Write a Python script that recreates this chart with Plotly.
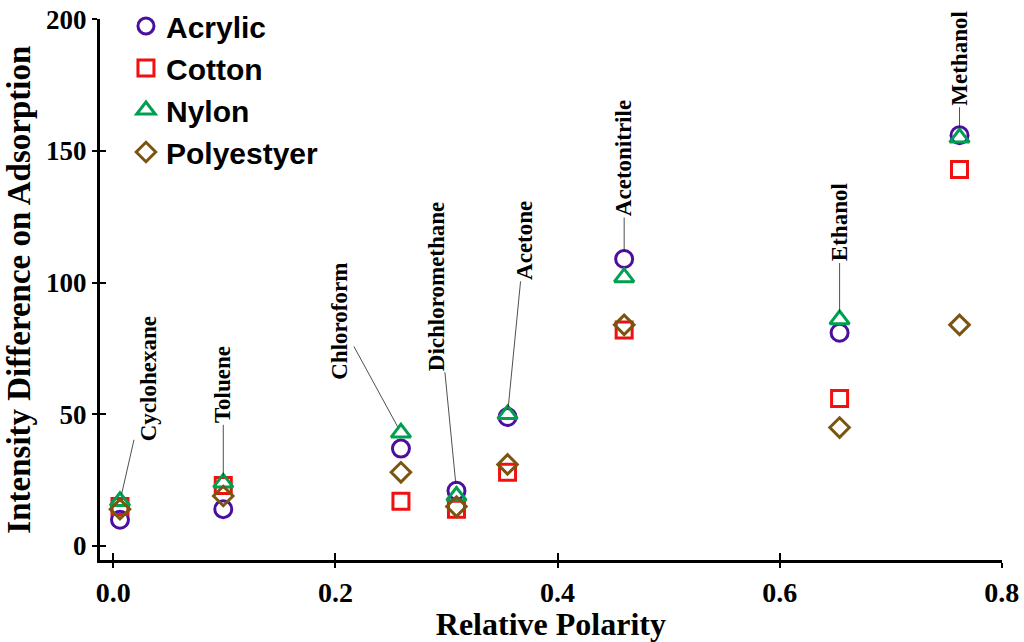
import plotly.graph_objects as go

solvents = ["Cyclohexane", "Toluene", "Chloroform", "Dichloromethane",
            "Acetone", "Acetonitrile", "Ethanol", "Methanol"]
polarity = [0.006, 0.099, 0.259, 0.309, 0.355, 0.460, 0.654, 0.762]
acrylic = [10, 14, 37, 21, 49, 109, 81, 156]
cotton = [15, 23, 17, 14, 28, 82, 56, 143]
nylon = [17, 24, 43, 19, 50, 102, 86, 155]
polyester = [14, 19, 28, 15, 31, 84, 45, 84]

x_ticks = [0.0, 0.2, 0.4, 0.6, 0.8]
y_ticks = [0, 50, 100, 150, 200]

# label offsets (pixels) for the solvent annotations
label_offsets = [(28, -123), (0, -98), (-61, -112), (-20, -205),
                 (17, -174), (0, -101), (0, -97), (0, -77)]

series = [
    ("Acrylic", acrylic, "circle-open", "#4B0FA0", 17),
    ("Cotton", cotton, "square-open", "#F01010", 16),
    ("Nylon", nylon, "triangle-up-open", "#00A050", 17),
    ("Polyestyer", polyester, "diamond-open", "#7A5510", 15),
]

serif = "Liberation Serif"
sans = "Liberation Sans"

fig = go.Figure()
for name, vals, sym, col, size in series:
    fig.add_trace(go.Scatter(
        x=polarity, y=vals, mode="markers", name=name,
        marker=dict(symbol=sym, size=size, color=col,
                    line=dict(color=col, width=3)),
    ))

# dummy trace for the overlay axes (inside ticks)
fig.add_trace(go.Scatter(x=[None], y=[None], xaxis="x2", yaxis="y2",
                         showlegend=False, hoverinfo="skip"))

tops = [max(a, b, c, d) for a, b, c, d in zip(acrylic, cotton, nylon, polyester)]
for name, px, py, (ax, ay) in zip(solvents, polarity, tops, label_offsets):
    fig.add_annotation(
        x=px, y=py, text=name, textangle=-90, showarrow=True,
        ax=ax, ay=ay, arrowhead=0, arrowwidth=0.8, arrowcolor="#222222",
        standoff=7,
        font=dict(family=serif, size=23, color="black", weight="bold"),
    )

xr = [-0.012, 0.8]
yr = [-5.3, 200]
xdom = [0, 0.9759]
ydom = [0, 0.9655]
axis_common = dict(showgrid=False, zeroline=False, showline=True,
                   linecolor="black", linewidth=3, automargin=False,
                   tickcolor="black", tickwidth=2)

fig.update_layout(
    width=1024, height=642,
    margin=dict(l=100, r=0, t=0, b=82),
    plot_bgcolor="white", paper_bgcolor="white",
    showlegend=True,
    legend=dict(x=0.0281, y=1.0, xanchor="left", yanchor="top",
                font=dict(family=sans, size=30, color="black", weight="bold"),
                bgcolor="rgba(0,0,0,0)", tracegroupgap=0, itemwidth=30),
    xaxis=dict(range=xr, domain=xdom, tickvals=x_ticks,
               ticktext=[f"{v:.1f}" for v in x_ticks],
               ticks="outside", ticklen=5,
               tickfont=dict(family=serif, size=28, color="black", weight="bold"),
               title=dict(text="Relative Polarity", standoff=4,
                          font=dict(family=serif, size=32, color="black", weight="bold")),
               **axis_common),
    yaxis=dict(range=yr, domain=ydom, tickvals=y_ticks, ticks="outside", ticklen=5,
               tickfont=dict(family=serif, size=27, color="black", weight="bold"),
               title=dict(text="Intensity Difference on Adsorption", standoff=6,
                          font=dict(family=serif, size=33, color="black", weight="bold")),
               **axis_common),
    xaxis2=dict(range=xr, domain=xdom, overlaying="x", tickvals=x_ticks, ticks="inside",
                ticklen=7, showticklabels=False, showgrid=False, zeroline=False,
                showline=False, tickcolor="black", tickwidth=2, side="bottom",
                anchor="y2"),
    yaxis2=dict(range=yr, domain=ydom, overlaying="y", tickvals=y_ticks, ticks="inside",
                ticklen=6, showticklabels=False, showgrid=False, zeroline=False,
                showline=False, tickcolor="black", tickwidth=2, side="left",
                anchor="x2"),
)

fig.write_html("out.html")
